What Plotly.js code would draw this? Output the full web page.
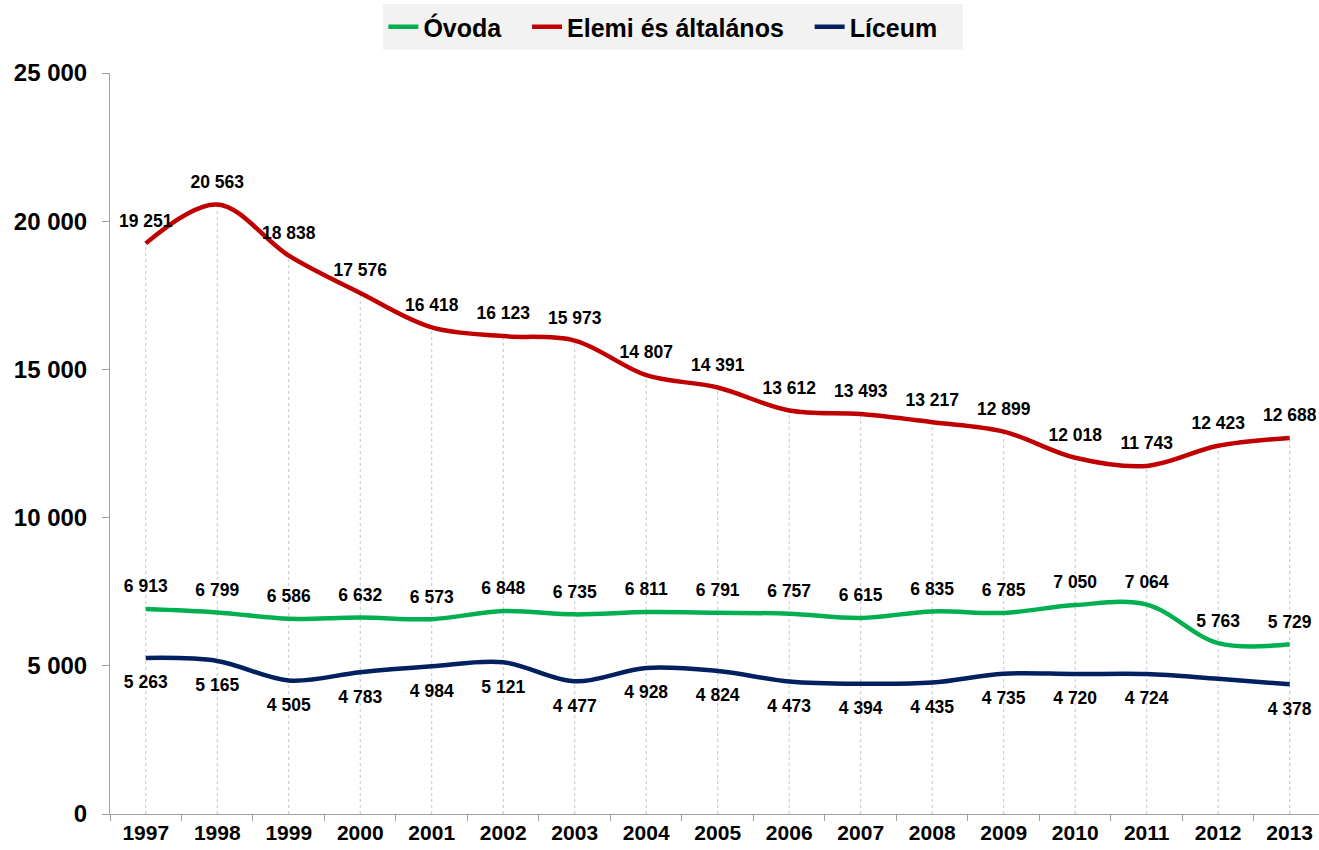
<!DOCTYPE html>
<html><head><meta charset="utf-8">
<script src="https://cdn.plot.ly/plotly-3.0.1.min.js"></script>
<style>body{margin:0;background:#fff}</style>
</head><body>
<div id="chart" style="width:1319px;height:850px"></div>
<script>
const years = ['1997','1998','1999','2000','2001','2002','2003','2004','2005','2006','2007','2008','2009','2010','2011','2012','2013'];
const ovoda = [6913,6799,6586,6632,6573,6848,6735,6811,6791,6757,6615,6835,6785,7050,7064,5763,5729];
const elemi = [19251,20563,18838,17576,16418,16123,15973,14807,14391,13612,13493,13217,12899,12018,11743,12423,12688];
const liceum = [5263,5165,4505,4783,4984,5121,4477,4928,4824,4473,4394,4435,4735,4720,4724,4560,4378];
const liceumHiddenLabels = ['2012'];
const seriesNames = ['Óvoda', 'Elemi és általános', 'Líceum'];

const fmt = v => String(v).replace(/\B(?=(\d{3})+(?!\d))/g, ' ');
const FONT = 'Liberation Sans, Arial, sans-serif';
const PAD = '\u00a0\u00a0\u00a0';

const dropX = years.flatMap(y => [y, y, null]);
const dropY = elemi.flatMap(v => [0, v, null]);

const labelFont = {family: FONT, size: 17.5, color: '#000', weight: 'bold'};

function series(name, vals, color, pos, msize, hidden) {
  return {
    type: 'scatter', mode: 'lines+markers+text', name: name + PAD,
    x: years, y: vals,
    text: vals.map((v, i) => (hidden && hidden.includes(years[i])) ? '' : fmt(v)),
    textposition: pos,
    textfont: labelFont,
    line: {color: color, width: 4.5, shape: 'spline', smoothing: 1},
    marker: {size: msize, color: 'rgba(0,0,0,0)'},
    cliponaxis: false,
    hoverinfo: 'x+y'
  };
}

const data = [
  {type: 'scatter', mode: 'lines', x: dropX, y: dropY, showlegend: false,
   line: {color: '#c4c4c4', width: 1, dash: 'dot'}, hoverinfo: 'skip'},
  series(seriesNames[0], ovoda, '#00b050', 'top center', 18),
  series(seriesNames[1], elemi, '#c00000', 'top center', 18),
  series(seriesNames[2], liceum, '#002060', 'bottom center', 26, liceumHiddenLabels)
];

const layout = {
  width: 1319, height: 850,
  paper_bgcolor: '#fff', plot_bgcolor: '#fff',
  separators: ', ',
  margin: {l: 110, r: 0, t: 73, b: 36},
  font: {family: FONT, color: '#000'},
  showlegend: true,
  legend: {
    orientation: 'h', x: 0.466, xanchor: 'center', y: 1.031, yanchor: 'bottom',
    bgcolor: '#f2f2f2', font: {family: FONT, size: 25, weight: 'bold', color: '#000'},
    itemwidth: 30, traceorder: 'normal'
  },
  xaxis: {
    type: 'category', range: [-0.5, 16.41],
    tickson: 'boundaries', ticks: 'outside', ticklen: 6, tickcolor: '#a0a0a0',
    showgrid: false, showline: true, linecolor: '#a0a0a0', linewidth: 1,
    tickfont: {family: FONT, size: 21, weight: 'bold', color: '#000'},
    fixedrange: true
  },
  yaxis: {
    range: [0, 25000], dtick: 5000, tick0: 0, tickformat: ',d',
    ticks: 'outside', ticklen: 7, tickcolor: '#a0a0a0',
    showgrid: false, zeroline: false, showline: true, linecolor: '#a0a0a0', linewidth: 1,
    tickfont: {family: FONT, size: 24, weight: 'bold', color: '#000'},
    ticklabelstandoff: 10,
    fixedrange: true
  }
};

Plotly.newPlot('chart', data, layout, {displayModeBar: false, staticPlot: true});
</script>
</body></html>
